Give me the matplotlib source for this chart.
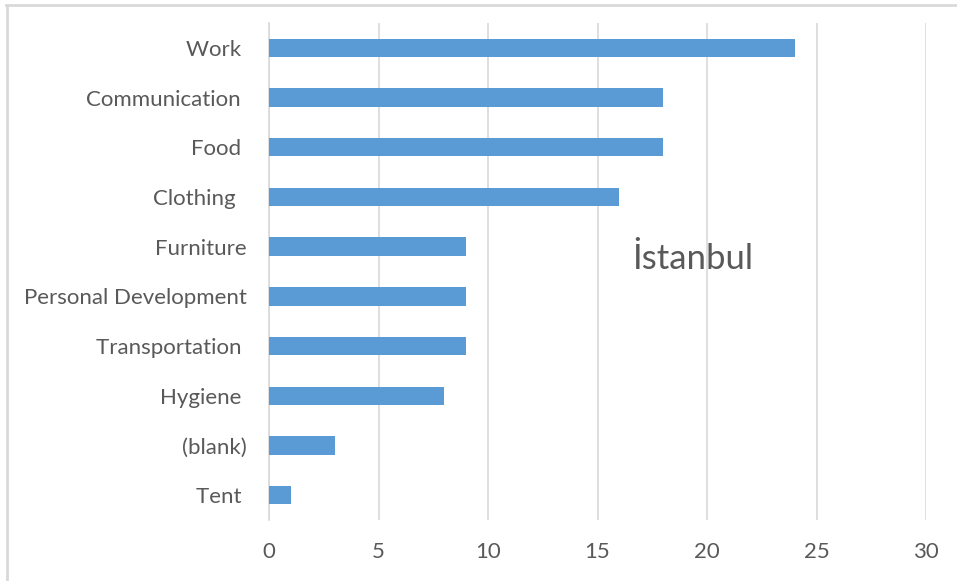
import matplotlib.pyplot as plt
from matplotlib.lines import Line2D

categories = ['Work ', 'Communication ', 'Food ', 'Clothing  ', 'Furniture',
              'Personal Development', 'Transportation ', 'Hygiene ', '(blank)', 'Tent ']
counts = [24, 18, 18, 16, 9, 9, 9, 8, 3, 1]
x_ticks = [0, 5, 10, 15, 20, 25, 30]

plt.rcParams['font.family'] = ['Lato', 'DejaVu Sans']
text_color = '#595959'
bar_color = '#5b9bd5'
grid_color = '#d9d9d9'

W, H = 957, 581
fig = plt.figure(figsize=(W / 100, H / 100), dpi=100)
ax = fig.add_axes([269 / W, 1 - 520 / H, (926 - 269) / W, (520 - 23) / H])

y = list(range(len(categories)))
ax.barh(y, counts, height=0.37, color=bar_color, zorder=3)
ax.set_ylim(len(categories) - 0.5, -0.5)
ax.set_xlim(0, 30)
ax.set_xticks(x_ticks)
ax.set_yticks(y)
ax.set_yticklabels(categories)

ax.grid(axis='x', color=grid_color, linewidth=1.2, zorder=0)
for side in ['top', 'right', 'bottom']:
    ax.spines[side].set_visible(False)
ax.spines['left'].set_color(grid_color)
ax.spines['left'].set_linewidth(1.2)
ax.tick_params(axis='y', length=0, pad=16, labelsize=16, labelcolor=text_color)
ax.tick_params(axis='x', length=0, pad=16, labelsize=16, labelcolor=text_color)

ax.text(16.6, 4.25, 'İstanbul', fontsize=25, color=text_color, va='center', ha='left')

# outer frame (top and left edges)
fig.add_artist(Line2D([6 / W, 1], [1 - 5 / H, 1 - 5 / H], color=grid_color, linewidth=2))
fig.add_artist(Line2D([7 / W, 7 / W], [0, 1 - 5 / H], color=grid_color, linewidth=2))

fig.savefig('out.png', dpi=100)
